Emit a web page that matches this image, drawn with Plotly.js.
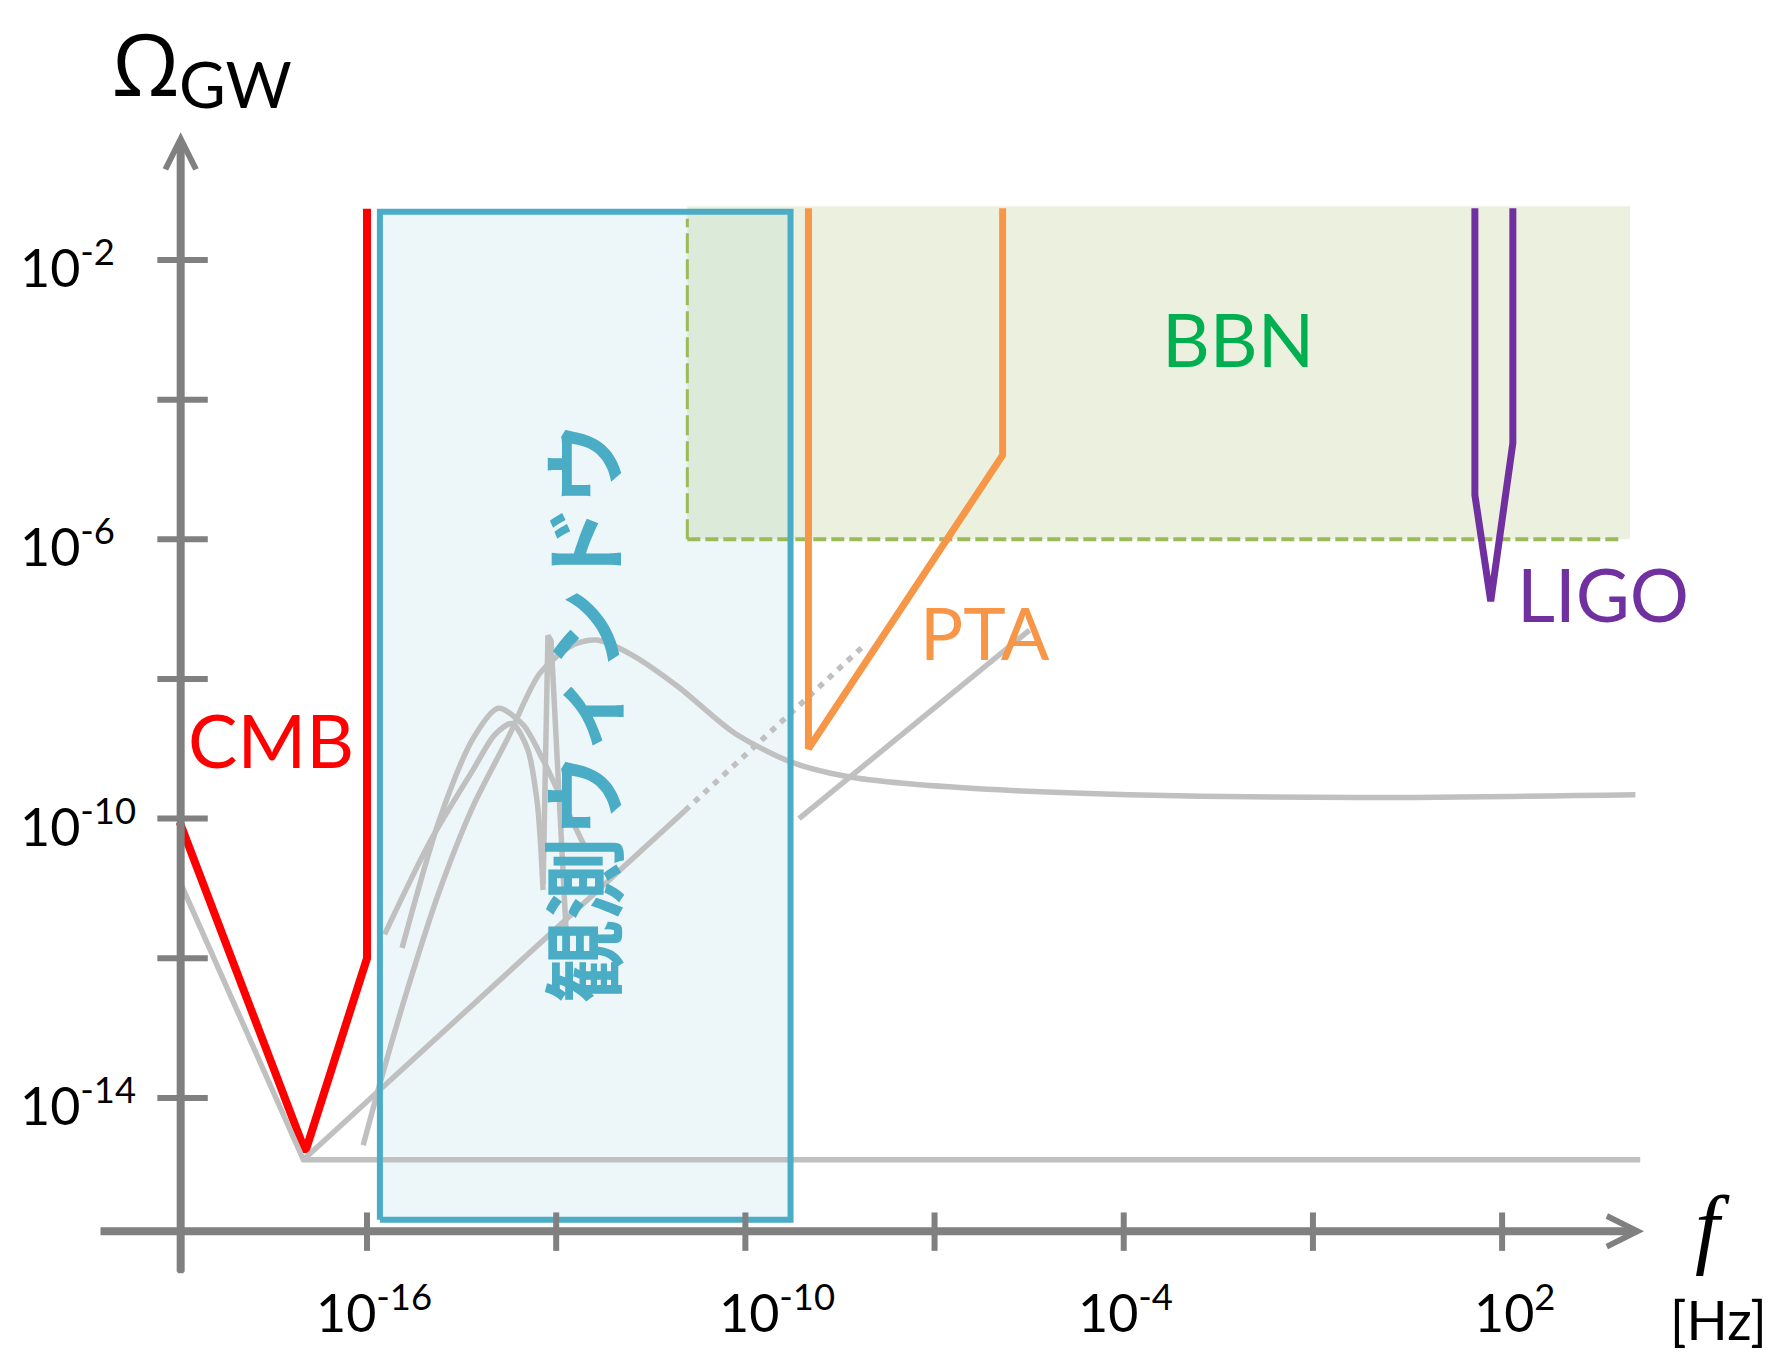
<!DOCTYPE html>
<html><head><meta charset="utf-8">
<script src="https://cdn.plot.ly/plotly-3.0.1.min.js"></script>
<style>html,body{margin:0;padding:0;background:#fff;} #chart{width:1771px;height:1354px;}</style>
</head><body><div id="chart"></div>
<script>
// ---------------- data ----------------
const xTickVals = [1e-16, 1e-13, 1e-10, 1e-7, 1e-4, 1e-1, 1e2];
const xLabelVals = [1.3e-16, 3.2e-10, 1.07e-4, 1.6e2];
const xLabelText = ['10<sup>-16</sup>', '10<sup>-10</sup>', '10<sup>-4</sup>', '10<sup>2</sup>'];
const yTickVals = [1e-2, 1e-4, 1e-6, 1e-8, 1e-10, 1e-12, 1e-14];
const yLabelVals = [1e-2, 1e-6, 1e-10, 1e-14];
const yLabelText = ['10<sup>-2</sup>', '10<sup>-6</sup>', '10<sup>-10</sup>', '10<sup>-14</sup>'];

const cmbF = [1.07e-19, 1.05e-17, 1e-16, 1e-16];
const cmbOmega = [8.9e-11, 1.7e-15, 1e-12, 5.4e-2];

const ptaF = [1e-9, 1e-9, 1.2e-6, 1.2e-6];
const ptaOmega = [5.5e-2, 1e-9, 1.6e-5, 5.5e-2];

const ligoF = [37, 37, 66, 148, 148];
const ligoOmega = [5.5e-2, 4.3e-6, 1.3e-7, 2.4e-5, 5.5e-2];

const windowF = [1.6e-16, 5.2e-10];
const windowOmega = [1.8e-16, 4.9e-2];

const bbnF = [1.2e-11, 1.07e4];
const bbnOmega = [1e-6, 5.9e-2];
const bbnLineEndF = 7.9e3;
const bbnLeftTopOmega = 3.9e-2;

const greyBaseF = [1.15e-19, 9.8e-18, 1.55e4];
const greyBaseOmega = [1.1e-11, 1.3e-15, 1.3e-15];

const greyLineF = [9.8e-18, 1.1e-11];
const greyLineOmega = [1.3e-15, 1.3e-10];
const greyDotF = [1.1e-11, 7.9e-9];
const greyDotOmega = [1.3e-10, 3.1e-8];
const greyLine2F = [7.1e-10, 3.2e-6];
const greyLine2Omega = [1e-10, 5.0e-8];

const broadF = [8.7e-17, 1.6e-16, 4.3e-16, 1.4e-15, 4.8e-15, 1.7e-14, 5.5e-14, 1.9e-13, 4.4e-13, 1.6e-12, 8.5e-12, 6.6e-11, 5.2e-10, 4.1e-9, 3.2e-8, 2.0e-6, 1.2e-4, 0.47, 1.3e4];
const broadOmega = [2.1e-15, 1.6e-14, 3.4e-13, 9.1e-12, 1.5e-10, 1.4e-9, 1.2e-8, 3.1e-8, 3.6e-8, 2.2e-8, 7.8e-9, 1.7e-9, 6.5e-10, 4.0e-10, 3.2e-10, 2.5e-10, 2.2e-10, 2.0e-10, 2.2e-10];

const peakAF = [3.6e-16, 1.4e-15, 4.8e-15, 1.2e-14, 3.0e-14, 6.2e-14, 1.3e-13, 2.9e-13];
const peakAOmega = [1.4e-12, 9.5e-11, 1.4e-9, 3.8e-9, 2.2e-9, 6.9e-10, 1.7e-10, 3.8e-11];

const peakBF = [1.9e-16, 1.0e-15, 4.8e-15, 1.07e-14, 2.0e-14, 3.5e-14, 5.0e-14, 6.2e-14];
const peakBOmega = [2.2e-12, 4.7e-11, 5.0e-10, 1.6e-9, 2.3e-9, 1.0e-9, 1.7e-10, 9.5e-12];

const spikeF = [6.2e-14, 7.4e-14, 8.3e-14, 1.15e-13, 1.45e-13];
const spikeOmega = [1.15e-11, 4.2e-8, 3.5e-8, 1.9e-10, 2.1e-12];

// axis geometry (log10 units)
const yAxisLogF = -18.955;
const xAxisLogOmega = -15.91;

// ---------------- build ----------------
const L = Math.log10;
const P = e => Math.pow(10, e);
const GREY = '#C0C0C0';
const AXIS = '#808080';
const GW = 5.5;

function line(x, y, color, width, extra) {
  return Object.assign({type: 'scatter', mode: 'lines', x: x, y: y, hoverinfo: 'skip', cliponaxis: false,
    line: {color: color, width: width}}, extra || {});
}

const traces = [];
traces.push({type: 'scatter', mode: 'lines', hoverinfo: 'skip',
  x: [windowF[0], windowF[1], windowF[1], windowF[0], windowF[0]],
  y: [windowOmega[0], windowOmega[0], windowOmega[1], windowOmega[1], windowOmega[0]],
  fill: 'toself', fillcolor: 'rgba(75,172,198,0.10)', line: {width: 0}});
traces.push({type: 'scatter', mode: 'lines', hoverinfo: 'skip',
  x: [bbnF[0], bbnF[1], bbnF[1], bbnF[0], bbnF[0]],
  y: [bbnOmega[0], bbnOmega[0], bbnOmega[1], bbnOmega[1], bbnOmega[0]],
  fill: 'toself', fillcolor: 'rgba(155,187,89,0.20)', line: {width: 0}});
traces.push(line([bbnF[0], bbnLineEndF], [bbnOmega[0], bbnOmega[0]], '#9BBB59', 4, {line: {color: '#9BBB59', width: 4, dash: '13px,5px'}}));
traces.push(line([bbnF[0], bbnF[0]], [bbnOmega[0], bbnLeftTopOmega], '#9BBB59', 3, {line: {color: '#9BBB59', width: 3, dash: '20px,6px'}}));
traces.push(line(cmbF, cmbOmega, '#FF0000', 8));
traces.push(line(greyBaseF, greyBaseOmega, GREY, GW));
traces.push(line(greyLineF, greyLineOmega, GREY, GW));
traces.push(line(greyDotF, greyDotOmega, GREY, GW, {line: {color: GREY, width: GW, dash: '6px,7px'}}));
traces.push(line(greyLine2F, greyLine2Omega, GREY, GW));
traces.push(line(broadF, broadOmega, GREY, GW, {line: {color: GREY, width: GW, shape: 'spline', smoothing: 0.8}}));
traces.push(line(peakAF, peakAOmega, GREY, GW, {line: {color: GREY, width: GW, shape: 'spline', smoothing: 0.8}}));
traces.push(line(peakBF, peakBOmega, GREY, GW, {line: {color: GREY, width: GW, shape: 'spline', smoothing: 0.8}}));
traces.push(line(spikeF, spikeOmega, GREY, GW));
traces.push(line(ptaF, ptaOmega, '#F79646', 7));
traces.push(line(ligoF, ligoOmega, '#7030A0', 7));
traces.push(line([windowF[0], windowF[1], windowF[1], windowF[0], windowF[0]],
  [windowOmega[0], windowOmega[0], windowOmega[1], windowOmega[1], windowOmega[0]], '#4BACC6', 6));
const tx = [], ty = [];
xTickVals.forEach(v => { tx.push(v, v, null); ty.push(P(xAxisLogOmega + 0.27), P(xAxisLogOmega - 0.28), null); });
yTickVals.forEach(v => { tx.push(P(yAxisLogF - 0.37), P(yAxisLogF + 0.43), null); ty.push(v, v, null); });
tx.push(P(yAxisLogF), P(yAxisLogF)); ty.push(P(xAxisLogOmega), P(xAxisLogOmega - 0.6));
traces.push(line(tx, ty, AXIS, 6));

const FONT = 'Lato, "Open Sans", sans-serif';
const annotations = [];
annotations.push({x: yAxisLogF, y: -0.17, ax: yAxisLogF, ay: xAxisLogOmega - 0.6, xref: 'x', yref: 'y', axref: 'x', ayref: 'y',
  text: '', showarrow: true, arrowhead: 5, arrowsize: 0.75, arrowwidth: 8, arrowcolor: AXIS, standoff: 0, startstandoff: 0});
annotations.push({x: 4.25, y: xAxisLogOmega, ax: -20.25, ay: xAxisLogOmega, xref: 'x', yref: 'y', axref: 'x', ayref: 'y',
  text: '', showarrow: true, arrowhead: 5, arrowsize: 0.75, arrowwidth: 8, arrowcolor: AXIS, standoff: 0, startstandoff: 0});
xLabelVals.forEach((v, i) => annotations.push({x: L(v), y: -17.02, xref: 'x', yref: 'y', text: xLabelText[i], showarrow: false,
  xanchor: 'center', yanchor: 'middle', font: {family: FONT, size: 52, color: '#000'}}));
yLabelVals.forEach((v, i) => annotations.push({x: -21.53, y: L(v) - 0.05, xref: 'x', yref: 'y', text: yLabelText[i], showarrow: false,
  xanchor: 'left', yanchor: 'middle', font: {family: FONT, size: 52, color: '#000'}}));
annotations.push({x: -19.505, y: 1.70, xref: 'x', yref: 'y', text: 'Ω', showarrow: false, xanchor: 'center', yanchor: 'top',
  font: {family: '"Open Sans", sans-serif', size: 86, color: '#000'}});
annotations.push({x: -18.09, y: 0.53, xref: 'x', yref: 'y', text: 'GW', showarrow: false, xanchor: 'center', yanchor: 'middle',
  font: {family: FONT, size: 64, color: '#000'}});
annotations.push({x: 5.33, y: -15.86, xref: 'x', yref: 'y', text: '<i>f</i>', showarrow: false, xanchor: 'center', yanchor: 'middle',
  font: {family: '"Liberation Serif", serif', size: 88, color: '#000'}});
annotations.push({x: 6.24, y: -17.17, xref: 'x', yref: 'y', text: '[Hz]', showarrow: false, xanchor: 'right', yanchor: 'middle',
  font: {family: FONT, size: 54, color: '#000'}});
annotations.push({x: -17.52, y: -8.87, xref: 'x', yref: 'y', text: 'CMB', showarrow: false, font: {family: FONT, size: 74, color: '#FF0000'}});
annotations.push({x: -2.19, y: -3.13, xref: 'x', yref: 'y', text: 'BBN', showarrow: false, font: {family: FONT, size: 74, color: '#00B050'}});
annotations.push({x: -6.2, y: -7.33, xref: 'x', yref: 'y', text: 'PTA', showarrow: false, font: {family: FONT, size: 72, color: '#F79646'}});
annotations.push({x: 3.6, y: -6.78, xref: 'x', yref: 'y', text: 'LIGO', showarrow: false, font: {family: FONT, size: 74, color: '#7030A0'}});
annotations.push({x: -12.62, y: -8.49, xref: 'x', yref: 'y', text: '観測ウィンドウ', showarrow: false, textangle: -90,
  xanchor: 'center', yanchor: 'middle', font: {family: '"Noto Sans CJK JP", sans-serif', size: 83, weight: 600, color: '#4BACC6'}});

const layout = {
  width: 1771, height: 1354, margin: {l: 0, r: 0, t: 0, b: 0},
  paper_bgcolor: '#ffffff', plot_bgcolor: '#ffffff', showlegend: false,
  xaxis: {type: 'log', range: [-21.82, 6.264], visible: false, fixedrange: true},
  yaxis: {type: 'log', range: [-17.667, 1.723], visible: false, fixedrange: true},
  annotations: annotations
};
Plotly.newPlot('chart', traces, layout, {displayModeBar: false, staticPlot: true});
</script>
</body></html>
